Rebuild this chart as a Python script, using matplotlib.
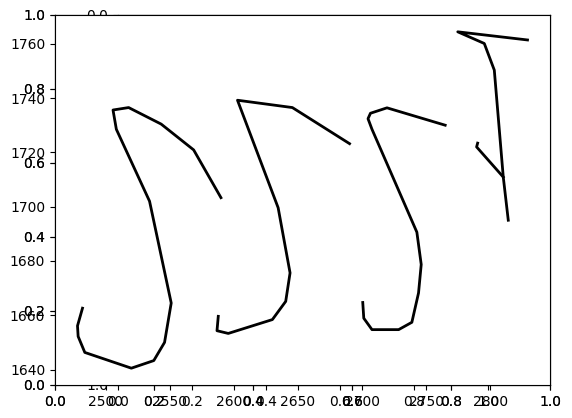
import matplotlib
matplotlib.use("Agg")
import matplotlib.pyplot as plt

# Pen strokes (x, y)
stroke1_x = [2481.9, 2478.0, 2478.5, 2483.7, 2520.0, 2537.5, 2545.9, 2551.1, 2534.2,
             2508.3, 2505.7, 2517.9, 2543.3, 2568.6, 2589.9]
stroke1_y = [1662.6, 1656.1, 1652.2, 1646.3, 1640.5, 1643.3, 1650.0, 1664.5, 1702.0,
             1728.5, 1735.6, 1736.5, 1730.4, 1720.9, 1703.3]

stroke2_x = [2587.8, 2586.8, 2595.6, 2630.0, 2640.4, 2643.8, 2634.5, 2602.8, 2645.6, 2690.2]
stroke2_y = [1659.6, 1654.3, 1653.3, 1658.4, 1665.1, 1675.6, 1699.6, 1739.2, 1736.5, 1723.2]

stroke3_x = [2700.5, 2701.3, 2707.7, 2728.5, 2738.8, 2744.0, 2746.1, 2742.7, 2707.7,
             2704.6, 2706.5, 2719.4, 2764.8]
stroke3_y = [1664.7, 1658.9, 1654.7, 1654.7, 1657.4, 1668.2, 1678.7, 1690.6, 1728.5,
             1732.4, 1734.4, 1736.4, 1730.0]

stroke4_x = [2829.0, 2774.6, 2795.3, 2803.1, 2810.1, 2814.0]
stroke4_y = [1761.4, 1764.4, 1760.1, 1750.3, 1710.9, 1695.0]

stroke5_x = [2790.1, 2789.3, 2810.1]
stroke5_y = [1723.4, 1722.0, 1710.9]

strokes_x = [stroke1_x, stroke2_x, stroke3_x, stroke4_x, stroke5_x]
strokes_y = [stroke1_y, stroke2_y, stroke3_y, stroke4_y, stroke5_y]

W, H = 572, 418
fig = plt.figure(figsize=(W / 100, H / 100), dpi=100)

main_box = [55 / W, (H - 385) / H, 495 / W, 370 / H]
square_box = [118 / W, (H - 385) / H, 370 / W, 370 / H]

# square equal-aspect axes with inverted y (behind everything)
axc = fig.add_axes(square_box)
axc.set_xlim(0, 1)
axc.set_ylim(1, 0)

# two empty 0-1 axes at the full box
axa1 = fig.add_axes(main_box)
axa2 = fig.add_axes(main_box)

# data axes on top
ax = fig.add_axes(main_box)
for xs, ys in zip(strokes_x, strokes_y):
    ax.plot(xs, ys, color="black", linewidth=2)

fig.savefig("out.png", dpi=100)
